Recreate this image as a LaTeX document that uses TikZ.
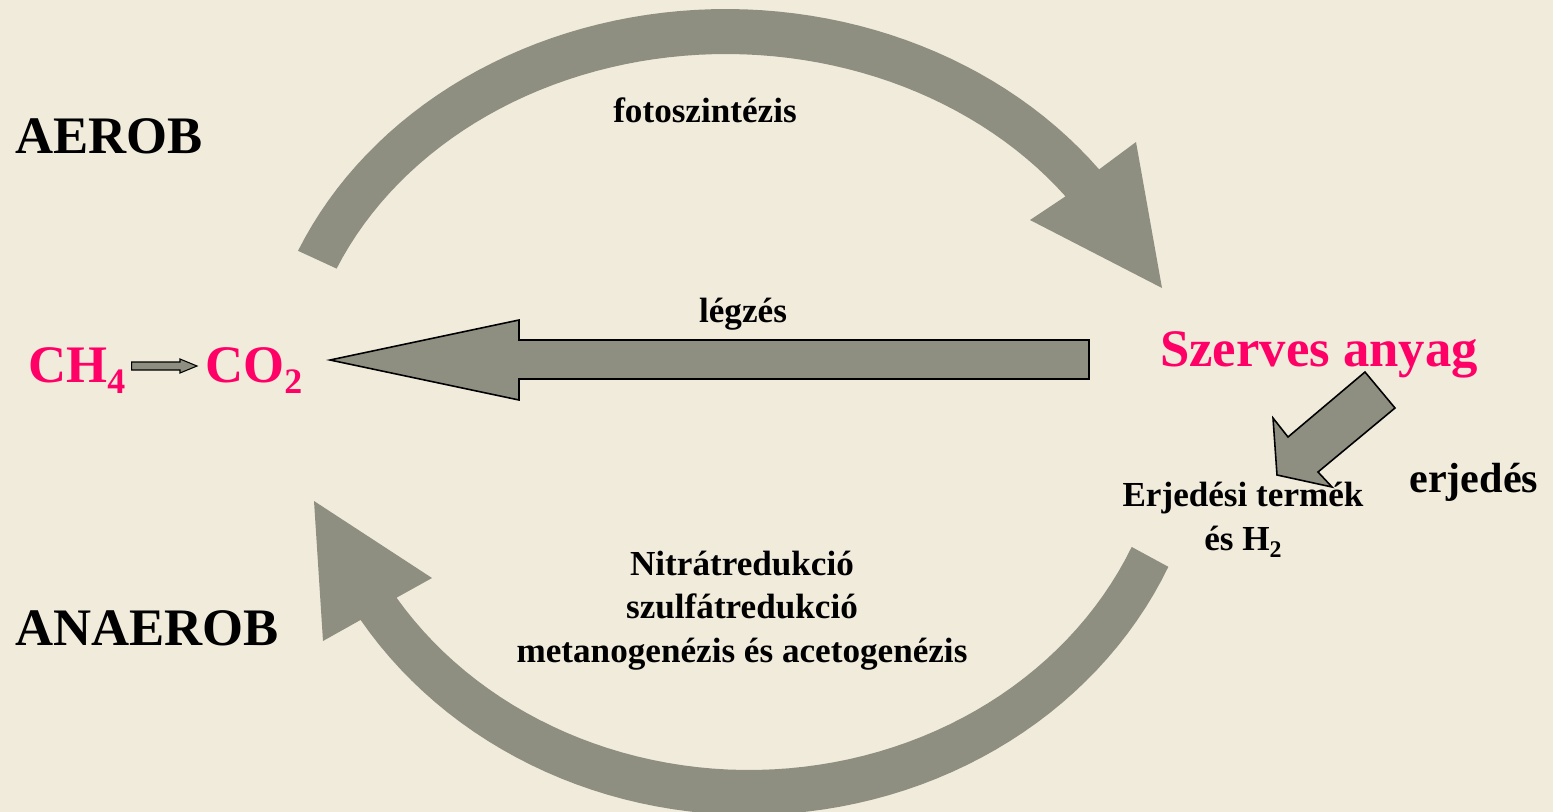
\documentclass[tikz,border=0pt]{standalone}
\usepackage{fontspec}
\setmainfont{Liberation Serif}
\usetikzlibrary{calc,positioning}
\definecolor{bgcream}{RGB}{241,235,220}
\definecolor{arrowgray}{RGB}{142,143,128}
\definecolor{hotpink}{RGB}{255,0,102}
\newcommand{\subidx}[1]{\raisebox{-0.22em}{\scalebox{0.68}{#1}}}

\begin{document}
\begin{tikzpicture}[x=0.02cm, y=-0.02cm,
  bigtxt/.style={font=\bfseries\fontsize{30}{36}\selectfont, inner sep=0pt},
  pinktxt/.style={bigtxt, text=hotpink},
  proctxt/.style={font=\bfseries\fontsize{20}{24.7}\selectfont, inner sep=0pt},
  flowfill/.style={fill=arrowgray},
  blockarrow/.style={fill=arrowgray, draw=black, line width=0.9pt, line join=miter}]
  \clip (0,0) rectangle (1553,812);
  \fill[bgcream] (0,0) rectangle (1553,812);

  % labels
  \node[bigtxt, anchor=base west] (aerob) at (15,153) {AEROB};
  \node[bigtxt, anchor=base west] (anaerob) at (15,645) {ANAEROB};
  \node[pinktxt, anchor=base west] (ch4) at (28,382) {CH\subidx{4}};
  \node[pinktxt, anchor=base west] (co2) at (205,382) {CO\subidx{2}};
  \node[pinktxt, anchor=base] (szerves) at (1319,366) {Szerves anyag};
  \node[proctxt, anchor=base] (fotoszint) at (705,122) {fotoszintézis};
  \node[proctxt, anchor=base] (legzes) at (743,322) {légzés};
  \node[proctxt, align=center, anchor=base] (erjtermek) at (1243,550) {Erjedési termék\\és H\subidx{2}};
  \node[font=\bfseries\fontsize{24}{28}\selectfont, inner sep=0pt, anchor=base west] (erjedes) at (1409,492) {erjedés};
  \node[proctxt, align=center, anchor=base] (anaerfolyamat) at (742,662)
    {Nitrátredukció\\szulfátredukció\\metanogenézis és acetogenézis};

  % CH4 -> CO2
  \coordinate (sa) at ($(ch4.base east)+(6,-16)$);
  \coordinate (sb) at ($(co2.base west)+(-8,-16)$);
  \draw[blockarrow, line width=0.6pt] ($(sa)+(0,-4)$) -- ($(sb)+(-17,-4)$) -- ($(sb)+(-17,-7)$)
    -- (sb) -- ($(sb)+(-17,7)$) -- ($(sb)+(-17,4)$) -- ($(sa)+(0,4)$) -- cycle;

  % photosynthesis arc
  \fill[flowfill] plot[domain=156.7:36.8, samples=60] ({726+466*cos(\x)},{409-400*sin(\x)})
    -- (1136,142) -- (1162,288) -- (1030,220)
    -- plot[domain=36.8:156.7, samples=60] ({726+424*cos(\x)},{409-355*sin(\x)}) -- cycle;

  % anaerobic arc
  \fill[flowfill] plot[domain=23.4:147.7, samples=60] ({749+417*cos(\x)},{400+370*sin(\x)})
    -- (432,578) -- (314,501) -- (323,641)
    -- plot[domain=148:23.7, samples=60] ({749+458*cos(\x)},{400+415*sin(\x)}) -- cycle;

  % respiration
  \draw[blockarrow] (1089,340) -- (519,340) -- (519,320) -- (330,360) -- (519,400)
    -- (519,379) -- (1089,379) -- cycle;

  % fermentation
  \draw[blockarrow] (1365,372) -- (1395,408) -- (1318,472) -- (1332,487) -- (1277,475)
    -- (1273,418) -- (1288,437) -- cycle;
\end{tikzpicture}
\end{document}
